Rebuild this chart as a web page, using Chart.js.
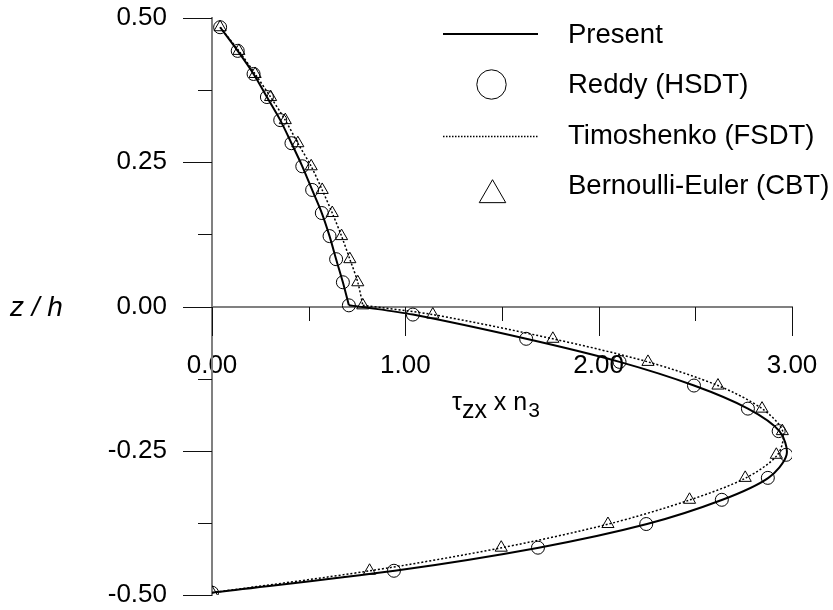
<!DOCTYPE html>
<html>
<head>
<meta charset="utf-8">
<script src="https://cdn.jsdelivr.net/npm/chart.js@4.4.1/dist/chart.umd.min.js"></script>
<style>
  html, body { margin: 0; padding: 0; background: #fff; }
  #wrap { width: 833px; height: 610px; }
</style>
</head>
<body>
<div id="wrap"><canvas id="c" width="833" height="610"></canvas></div>
<script>
// z/h positions of the markers (upper layer, then lower layer)
const zMarks = [0.484, 0.443, 0.403, 0.363, 0.323, 0.283, 0.243, 0.202, 0.162, 0.122, 0.082, 0.042, 0.002,
                -0.014, -0.056, -0.096, -0.137, -0.177, -0.216, -0.257, -0.297, -0.335, -0.377, -0.418, -0.458, -0.496];
const reddyX = [0.042, 0.133, 0.215, 0.284, 0.353, 0.411, 0.467, 0.518, 0.568, 0.608, 0.642, 0.677, 0.708,
                1.039, 1.625, 2.108, 2.493, 2.772, 2.931, 2.970, 2.875, 2.637, 2.246, 1.686, 0.941, 0.0];
const cbtX   = [0.042, 0.139, 0.223, 0.303, 0.379, 0.444, 0.513, 0.570, 0.622, 0.670, 0.713, 0.754, 0.780,
                1.142, 1.763, 2.255, 2.617, 2.845, 2.950, 2.919, 2.758, 2.470, 2.048, 1.496, 0.815, 0.0];

// curves (knee at index 12 = interface z = 0)
const presentZ = [0.484, 0.443, 0.403, 0.363, 0.323, 0.283, 0.243, 0.202, 0.162, 0.122, 0.082, 0.042, 0.002,
                  -0.001, -0.014, -0.056, -0.096, -0.137, -0.177, -0.216, -0.257, -0.297, -0.335, -0.377, -0.418, -0.458, -0.496];
const presentX = [0.042, 0.133, 0.215, 0.284, 0.353, 0.411, 0.467, 0.518, 0.568, 0.608, 0.642, 0.677, 0.708,
                  0.780, 1.039, 1.625, 2.108, 2.493, 2.772, 2.935, 2.972, 2.878, 2.640, 2.250, 1.690, 0.945, 0.0];
const timoZ = [0.484, 0.443, 0.403, 0.363, 0.323, 0.283, 0.243, 0.202, 0.162, 0.122, 0.082, 0.042, 0.002,
               -0.014, -0.056, -0.096, -0.137, -0.177, -0.216, -0.257, -0.297, -0.335, -0.377, -0.418, -0.458, -0.496];
const timoX = [0.042, 0.139, 0.223, 0.303, 0.379, 0.444, 0.513, 0.570, 0.622, 0.670, 0.713, 0.754, 0.780,
               1.142, 1.763, 2.255, 2.617, 2.845, 2.952, 2.925, 2.762, 2.474, 2.052, 1.500, 0.818, 0.0];
const KNEE = 12;

const xMajor = [0, 1, 2, 3];
const yMajor = [-0.5, -0.25, 0, 0.25, 0.5];
const legendNames = ['Present', 'Reddy (HSDT)', 'Timoshenko (FSDT)', 'Bernoulli-Euler (CBT)'];

const FONT = '"Liberation Sans", Arial, sans-serif';

function pts(xs, zs, from, to) {
  const out = [];
  for (let i = from; i < to; i++) out.push({ x: xs[i], y: zs[i] });
  return out;
}

const solid = { borderColor: '#000', borderWidth: 2, pointRadius: 0, tension: 0.3, showLine: true, fill: false };
const dotted = { borderColor: '#000', borderWidth: 1.5, borderDash: [2, 2], pointRadius: 0, tension: 0.3, showLine: true, fill: false };

const datasets = [
  Object.assign({ data: pts(presentX, presentZ, 0, KNEE + 1) }, solid),
  Object.assign({ data: pts(presentX, presentZ, KNEE, presentX.length) }, solid),
  Object.assign({ data: pts(timoX, timoZ, 0, KNEE + 1) }, dotted),
  Object.assign({ data: pts(timoX, timoZ, KNEE, timoX.length) }, dotted),
  { data: pts(reddyX, zMarks, 0, reddyX.length), showLine: false, pointStyle: 'circle', pointRadius: 6.5,
    pointBorderColor: '#000', pointBackgroundColor: 'rgba(0,0,0,0)', pointBorderWidth: 1 },
  { data: pts(cbtX, zMarks, 0, cbtX.length), showLine: false, pointStyle: 'triangle', pointRadius: 7,
    pointBorderColor: '#000', pointBackgroundColor: 'rgba(0,0,0,0)', pointBorderWidth: 1 }
];

function isIn(list, v) {
  return list.some(m => Math.abs(m - v) < 1e-6);
}

const deco = {
  id: 'deco',
  afterDraw(chart) {
    const { ctx, scales: { x, y } } = chart;
    const y0 = Math.round(y.getPixelForValue(0));
    const left = Math.round(x.getPixelForValue(0));
    ctx.save();
    ctx.strokeStyle = '#111';
    ctx.lineWidth = 1;
    ctx.beginPath();
    for (let v = 0; v <= 3.0001; v += 0.5) {
      const px = Math.round(x.getPixelForValue(v)) + 0.5;
      const len = isIn(xMajor, v) ? 29 : 14;
      ctx.moveTo(px, y0);
      ctx.lineTo(px, y0 + len);
    }
    for (let v = -0.5; v <= 0.5001; v += 0.125) {
      const py = Math.round(y.getPixelForValue(v)) + 0.5;
      const len = isIn(yMajor, v) ? 29 : 14;
      ctx.moveTo(left - len, py);
      ctx.lineTo(left, py);
    }
    ctx.stroke();

    // axis titles
    ctx.fillStyle = '#000';
    ctx.textBaseline = 'alphabetic';
    ctx.textAlign = 'left';
    ctx.font = 'italic 28px ' + FONT;
    ctx.fillText('z / h', 10, 316);

    let tx = 452;
    ctx.font = '25px ' + FONT;
    ctx.fillText('\u03C4', tx, 410);
    tx += ctx.measureText('\u03C4').width;
    ctx.fillText('zx', tx, 418);
    tx += ctx.measureText('zx').width;
    ctx.fillText(' x n', tx, 410);
    tx += ctx.measureText(' x n').width + 1;
    ctx.font = '21px ' + FONT;
    ctx.fillText('3', tx, 417);

    // legend
    const sx0 = 443, sx1 = 538, tx0 = 568;
    const base = [43, 93, 144, 194];
    ctx.font = '27.5px ' + FONT;
    legendNames.forEach((name, i) => ctx.fillText(name, tx0, base[i]));
    ctx.strokeStyle = '#000';
    ctx.lineWidth = 2;
    ctx.beginPath();
    ctx.moveTo(sx0, 34); ctx.lineTo(sx1, 34);
    ctx.stroke();
    ctx.lineWidth = 1.3;
    ctx.setLineDash([1.5, 1.5]);
    ctx.beginPath();
    ctx.moveTo(sx0, 136.5); ctx.lineTo(sx1, 136.5);
    ctx.stroke();
    ctx.setLineDash([]);
    ctx.lineWidth = 1;
    ctx.beginPath();
    ctx.arc(491.5, 84.5, 14.7, 0, Math.PI * 2);
    ctx.stroke();
    ctx.fillStyle = 'rgba(0,0,0,0)';
    Chart.helpers.drawPoint(ctx, { pointStyle: 'triangle', radius: 15.3, borderWidth: 1 }, 492.5, 195);
    ctx.restore();
  }
};

new Chart(document.getElementById('c'), {
  type: 'scatter',
  data: { datasets: datasets },
  options: {
    responsive: false,
    animation: false,
    events: [],
    layout: { padding: { left: 0, right: 41, top: 18, bottom: 15 } },
    plugins: { legend: { display: false }, tooltip: { enabled: false } },
    scales: {
      x: {
        type: 'linear',
        position: { y: 0 },
        min: 0, max: 3,
        afterFit: s => { s.paddingLeft = 0; s.paddingRight = 0; },
        grid: { display: true, drawOnChartArea: false, tickLength: 29, tickColor: 'rgba(0,0,0,0)' },
        border: { display: true, color: '#808080', width: 2 },
        ticks: {
          stepSize: 0.5, autoSkip: false, maxRotation: 0, padding: 17, color: '#000',
          font: { family: FONT, size: 26, lineHeight: 1 },
          callback: v => isIn(xMajor, v) ? v.toFixed(2) : ''
        }
      },
      y: {
        type: 'linear',
        position: 'left',
        min: -0.5, max: 0.5,
        afterFit: s => { s.width = 212; s.paddingTop = 0; s.paddingBottom = 0; },
        grid: { display: true, drawOnChartArea: false, tickLength: 29, tickColor: 'rgba(0,0,0,0)' },
        border: { display: true, color: '#808080', width: 2 },
        ticks: {
          stepSize: 0.125, autoSkip: false, padding: 16, color: '#000',
          font: { family: FONT, size: 26, lineHeight: 1 },
          callback: v => isIn(yMajor, v) ? v.toFixed(2) : ''
        }
      }
    }
  },
  plugins: [deco]
});
</script>
</body>
</html>
